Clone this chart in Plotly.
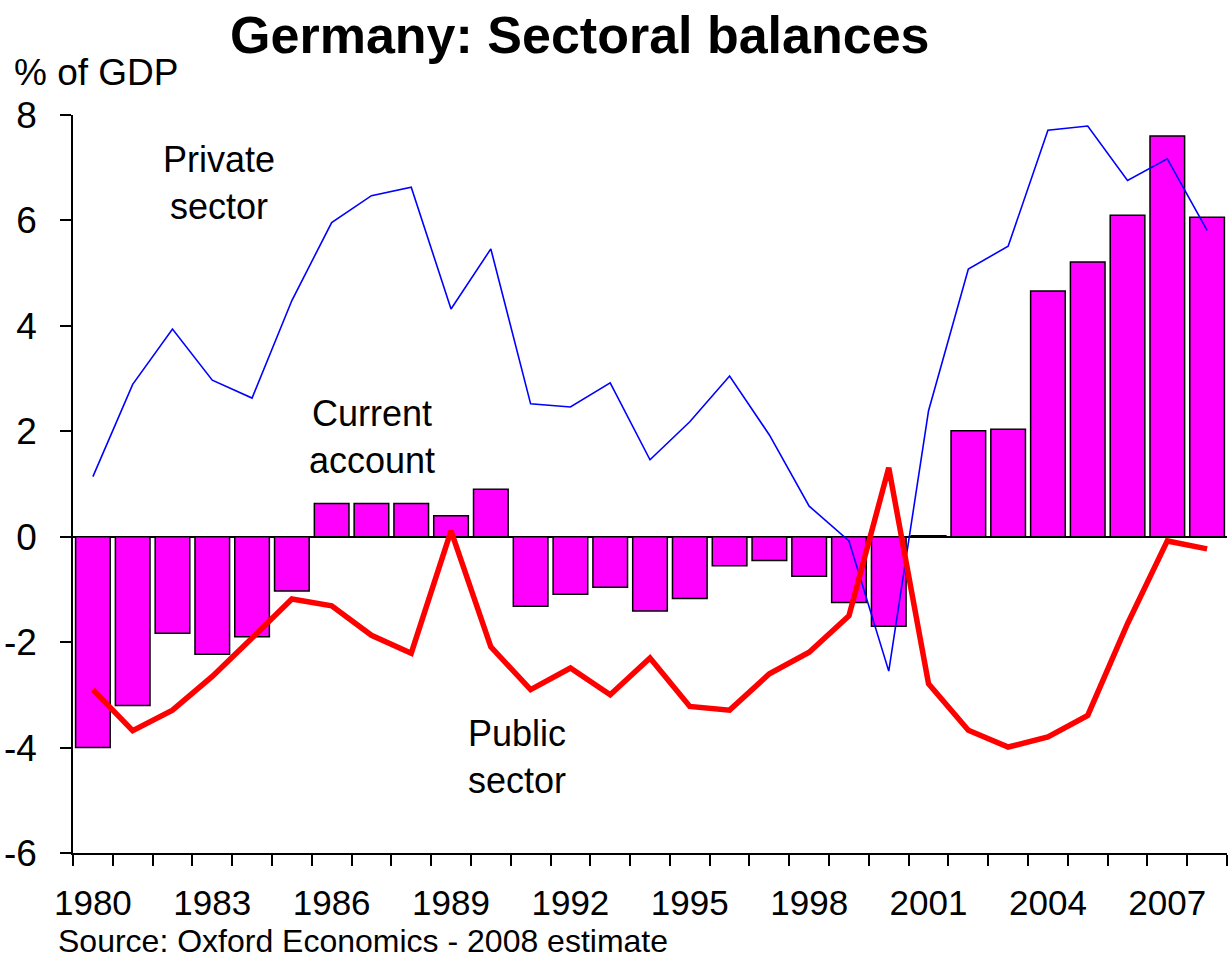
import plotly.graph_objects as go

years = list(range(1980, 2009))
current_account = [-4.0, -3.2, -1.83, -2.23, -1.90, -1.03, 0.63, 0.63, 0.63, 0.40,
                   0.90, -1.32, -1.09, -0.96, -1.41, -1.17, -0.55, -0.45, -0.75, -1.25,
                   -1.70, 0.02, 2.01, 2.04, 4.66, 5.21, 6.10, 7.60, 6.06]
private_sector = [1.14, 2.89, 3.94, 2.97, 2.63, 4.48, 5.96, 6.47, 6.63, 4.32,
                  5.46, 2.52, 2.46, 2.92, 1.46, 2.18, 3.05, 1.93, 0.58, -0.08,
                  -2.55, 2.39, 5.08, 5.51, 7.71, 7.79, 6.76, 7.17, 5.81]
public_sector = [-2.90, -3.68, -3.29, -2.65, -1.92, -1.18, -1.31, -1.87, -2.21, 0.11,
                 -2.09, -2.90, -2.49, -3.00, -2.30, -3.22, -3.29, -2.60, -2.19, -1.50,
                 1.31, -2.79, -3.67, -3.99, -3.80, -3.39, -1.65, -0.08, -0.23]
label_years = [1980, 1983, 1986, 1989, 1992, 1995, 1998, 2001, 2004, 2007]
y_ticks = [-6, -4, -2, 0, 2, 4, 6, 8]
y_ticktext = ["-6", "-4", "-2", "0", "2", "4", "6", "8"]

FONT = "Liberation Sans, Arial, sans-serif"

fig = go.Figure()
fig.add_trace(go.Bar(x=years, y=current_account, marker=dict(color="#FF00FF",
                     line=dict(color="black", width=1.5)), name="Current account"))
fig.add_trace(go.Scatter(x=years, y=private_sector, mode="lines",
                         line=dict(color="#0000FF", width=1.6), name="Private sector"))
fig.add_trace(go.Scatter(x=years, y=public_sector, mode="lines",
                         line=dict(color="#FF0000", width=5.5), name="Public sector"))

boundaries = [y - 0.5 for y in years] + [years[-1] + 0.5]

fig.update_layout(
    width=1231, height=961,
    margin=dict(l=73, r=4, t=115, b=108),
    plot_bgcolor="white", paper_bgcolor="white",
    showlegend=False, bargap=0.13,
    font=dict(family=FONT, color="black", size=36),
    title=dict(text="<b>Germany: Sectoral balances</b>", x=0.471, xanchor="center",
               y=1 - 35 / 961, yanchor="middle", yref="container",
               font=dict(size=52, family=FONT, color="black")),
    xaxis=dict(range=[1979.5, 2008.5], tickvals=label_years, ticks="",
               showgrid=False, zeroline=False, showline=True, linecolor="black",
               linewidth=1.5, tickfont=dict(size=35), ticklabelstandoff=18,
               automargin=False,
               minor=dict(tickvals=boundaries, ticks="outside", ticklen=11,
                          tickcolor="black", tickwidth=1.5, showgrid=False)),
    yaxis=dict(range=[-6, 8], tickvals=y_ticks, ticktext=y_ticktext,
               ticks="outside", ticklen=11,
               tickcolor="black", tickwidth=1.5, showgrid=False,
               zeroline=True, zerolinecolor="black", zerolinewidth=2,
               showline=True, linecolor="black", linewidth=1.5,
               tickfont=dict(size=37), ticklabelstandoff=16, automargin=False),
    annotations=[
        dict(text="Private<br>sector", x=1983.18, y=6.71, xref="x", yref="y",
             showarrow=False, font=dict(size=36), align="center"),
        dict(text="Current<br>account", x=1987.02, y=1.89, xref="x", yref="y",
             showarrow=False, font=dict(size=36), align="center"),
        dict(text="Public<br>sector", x=1990.66, y=-4.17, xref="x", yref="y",
             showarrow=False, font=dict(size=36), align="center"),
        dict(text="% of GDP", x=-0.0526, y=1.058, xref="paper", yref="paper",
             xanchor="left", yanchor="middle", showarrow=False, font=dict(size=37)),
        dict(text="Source: Oxford Economics - 2008 estimate", x=-0.0136, y=-0.1445,
             xref="paper", yref="paper", xanchor="left", yanchor="bottom",
             showarrow=False, font=dict(size=32), borderpad=0),
    ],
)

fig.write_html("out.html")
